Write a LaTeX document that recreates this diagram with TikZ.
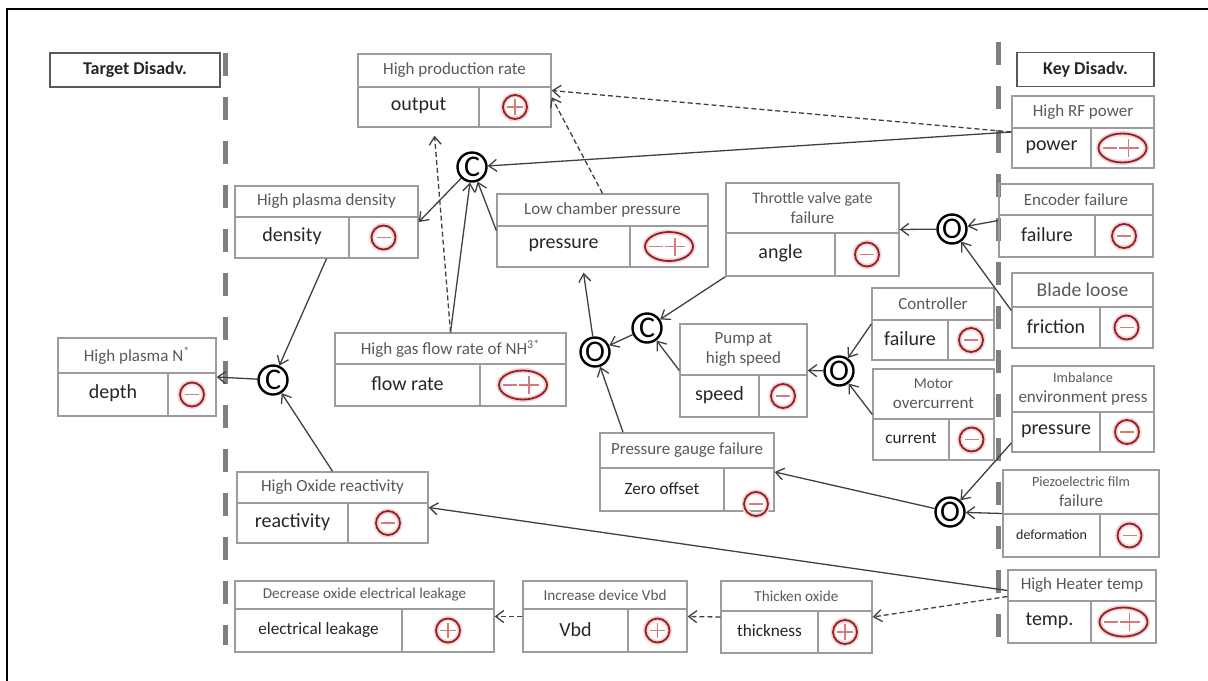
\documentclass[tikz,border=0pt]{standalone}
\usepackage{fontspec}
\setmainfont{Carlito}
\usetikzlibrary{arrows.meta,fit,shapes.geometric}

\definecolor{signred}{HTML}{9B1D20}
\definecolor{signlight}{HTML}{D77A7C}
\definecolor{framegray}{HTML}{9C9C9C}
\definecolor{titlegray}{HTML}{595959}
\definecolor{sepgray}{HTML}{7F7F7F}

\newcommand{\tsmall}{\fontsize{7.6}{9}\selectfont}
\newcommand{\ttiny}{\fontsize{7.1}{8.7}\selectfont}
\newcommand{\vsmall}{\fontsize{8.6}{10}\selectfont}
\newcommand{\vtiny}{\fontsize{7}{8}\selectfont}

\tikzset{
  boxframe/.style={draw=framegray, line width=0.7pt, inner sep=0pt},
  titletext/.style={text=titlegray, align=center, inner sep=0pt,
    font=\fontsize{8.5}{10}\selectfont},
  vartext/.style={text=black!85, inner sep=0pt, font=\fontsize{10}{12}\selectfont},
  headbox/.style={draw=black!65, line width=0.9pt, minimum height=17pt,
    inner sep=0pt, text=black!85, font=\bfseries\fontsize{9}{11}\selectfont},
  sepline/.style={draw=sepgray, line width=2.5pt, dash pattern=on 11.5pt off 10.5pt},
  junction/.style={circle, draw=black, line width=1.2pt, minimum size=14.5pt,
    inner sep=0pt, font=\fontsize{15}{15}\selectfont},
  signminus/.style={circle, draw=signred, line width=0.9pt, minimum size=12pt,
    inner sep=0pt, preaction={draw=signred!18, line width=2.6pt},
    path picture={\draw[signlight, line width=0.9pt]
      ([xshift=-3.5pt]path picture bounding box.center) --
      ([xshift=3.5pt]path picture bounding box.center);}},
  signplus/.style={circle, draw=signred, line width=0.9pt, minimum size=12pt,
    inner sep=0pt, preaction={draw=signred!18, line width=2.6pt},
    path picture={\draw[signlight, line width=0.9pt]
      ([xshift=-3.8pt]path picture bounding box.center) --
      ([xshift=3.8pt]path picture bounding box.center)
      ([yshift=-3.8pt]path picture bounding box.center) --
      ([yshift=3.8pt]path picture bounding box.center);}},
  signboth/.style={ellipse, draw=signred, line width=0.9pt, minimum width=24pt,
    minimum height=14.5pt, inner sep=0pt, preaction={draw=signred!18, line width=2.6pt},
    path picture={\draw[signlight, line width=0.9pt]
      ([xshift=-10pt]path picture bounding box.center) --
      ([xshift=-3pt]path picture bounding box.center)
      ([xshift=-2pt]path picture bounding box.center) --
      ([xshift=8pt]path picture bounding box.center)
      ([xshift=3pt,yshift=-4.5pt]path picture bounding box.center) --
      ([xshift=3pt,yshift=4.5pt]path picture bounding box.center);}},
  cause/.style={-{Straight Barb[length=4pt,width=6pt]}, draw=black!75, line width=0.65pt},
  hint/.style={cause, dash pattern=on 2.5pt off 1.5pt}
}

% box: name, x1, y1, x2, y2, title split, cell split, title, variable
\newcommand{\factorbox}[9]{%
  \node[boxframe, fit={(#2,#3) (#4,#5)}] (#1) {};
  \draw[boxframe] (#2,#6) -- (#4,#6) (#7,#6) -- (#7,#5);
  \node[titletext] (#1-t) at ({(#2+#4)/2},{(#3+#6)/2}) {#8};
  \node[vartext] (#1-v) at ({(#2+#7)/2},{(#6+#5)/2-1}) {#9};
  \coordinate (#1-s) at ({(#7+#4)/2},{(#6+#5)/2});
}

\begin{document}
\begin{tikzpicture}[x=0.5pt,y=-0.5pt]
  \clip (0,0) rectangle (1208,680);
  \draw[line width=1pt] (7,9) rectangle (1230,700);
  % separators
  \draw[sepline] (225,53) -- (225,645);
  \draw[sepline] (998,42) -- (998,655);
  % headers
  \node[headbox, minimum width=85pt] (target) at (135,70) {Target Disadv.};
  \node[headbox, minimum width=68.5pt] (key) at (1085.5,69.5) {Key Disadv.};
  % factor boxes
  \factorbox{prod}{358}{54}{551}{127}{87}{479}{High production rate}{output}
  \factorbox{dens}{235}{186}{418}{258}{217}{349}{High plasma density}{density}
  \factorbox{lowp}{497}{194}{708}{267}{226}{630}{Low chamber pressure}{pressure}
  \factorbox{tvg}{726}{183}{899}{276}{233}{835}{\fontsize{8}{10}\selectfont Throttle valve gate\\failure}{angle}
  \factorbox{rf}{1012}{96}{1154}{168}{128}{1091}{High RF power}{power}
  \factorbox{enc}{999}{184}{1153}{257}{215}{1095}{Encoder failure}{failure}
  \factorbox{blade}{1012}{273}{1153}{348}{307}{1100}{\fontsize{9.8}{11}\selectfont Blade loose}{friction}
  \factorbox{ctrl}{872}{288}{994}{360}{320}{948}{Controller}{failure}
  \factorbox{motor}{873}{369}{994}{460}{419}{949}{\tsmall Motor\\overcurrent}{\vsmall current}
  \factorbox{pump}{680}{324}{807}{417}{375}{759}{Pump at\\high speed}{speed}
  \factorbox{flow}{335}{333}{566}{406}{364}{480}{High gas flow rate of NH\textsuperscript{3*}}{flow rate}
  \factorbox{plasn}{58}{338}{216}{416}{373}{168}{High plasma N\textsuperscript{*}}{depth}
  \factorbox{react}{237}{472}{428}{543}{503}{348}{High Oxide reactivity}{reactivity}
  \factorbox{gauge}{600}{433}{774}{511}{468}{724}{Pressure gauge failure}{\vsmall Zero offset}
  \factorbox{imb}{1012}{366}{1154}{452}{412}{1100}{\ttiny Imbalance\\environment press}{pressure}
  \factorbox{piezo}{1003}{470}{1159}{557}{514}{1100}{\ttiny Piezoelectric film\\failure}{\vtiny deformation}
  \factorbox{heat}{1008}{570}{1156}{643}{601}{1091}{High Heater temp}{temp.}
  \factorbox{thick}{721}{581}{872}{653}{611}{818}{\tsmall Thicken oxide}{\vsmall thickness}
  \factorbox{vbd}{523}{581}{687}{652}{609}{628}{\tsmall Increase device Vbd}{Vbd}
  \factorbox{leak}{235}{581}{494}{652}{609}{402}{\tsmall Decrease oxide electrical leakage}{\vsmall electrical leakage}
  % signs
  \node[signplus] (prod-m) at (prod-s) {};
  \node[signminus] (dens-m) at (dens-s) {};
  \node[signboth] (lowp-m) at (lowp-s) {};
  \node[signminus] (tvg-m) at (tvg-s) {};
  \node[signboth] (rf-m) at (rf-s) {};
  \node[signminus] (enc-m) at (enc-s) {};
  \node[signminus] (blade-m) at (blade-s) {};
  \node[signminus] (ctrl-m) at (ctrl-s) {};
  \node[signminus] (motor-m) at (motor-s) {};
  \node[signminus] (pump-m) at (pump-s) {};
  \node[signboth] (flow-m) at (flow-s) {};
  \node[signminus] (plasn-m) at (plasn-s) {};
  \node[signminus] (react-m) at (react-s) {};
  \node[signminus] (gauge-m) at (756,504) {};
  \node[signminus] (imb-m) at (imb-s) {};
  \node[signminus] (piezo-m) at (piezo-s) {};
  \node[signboth] (heat-m) at (heat-s) {};
  \node[signplus] (thick-m) at (thick-s) {};
  \node[signplus] (vbd-m) at (vbd-s) {};
  \node[signplus] (leak-m) at (leak-s) {};
  % and / or junctions
  \node[junction] (ctop) at (472,167) {C};
  \node[junction] (cleft) at (273,380) {C};
  \node[junction] (cmid) at (647,328) {C};
  \node[junction] (omid) at (595,352) {O};
  \node[junction] (otr) at (952,229) {O};
  \node[junction] (orm) at (839,371) {O};
  \node[junction] (obr) at (950,512) {O};
  % causal links
  \begin{scope}[cause]
    \draw (rf.west) to (ctop);
    \draw (flow.north) to (ctop);
    \draw (lowp.west) to (ctop);
    \draw (ctop) to (dens.east);
    \draw (dens.south) to (cleft);
    \draw (react.north) to (cleft);
    \draw (cleft) to (plasn.east);
    \draw (omid) to ([xshift=-9.5pt,yshift=-2.5pt]lowp.south);
    \draw (cmid) to (omid);
    \draw (tvg.south west) to (cmid);
    \draw (pump.west) to (cmid);
    \draw ([xshift=-32pt]gauge.north) to (omid);
    \draw (otr) to (tvg.east);
    \draw (enc.west) to (otr);
    \draw (blade.west) to (otr);
    \draw (orm) to (pump.east);
    \draw (ctrl.west) to (orm);
    \draw (motor.west) to (orm);
    \draw ([yshift=-17pt]imb.west) to (obr);
    \draw (piezo.west) to (obr);
    \draw (obr) to (gauge.east);
    \draw ([yshift=8pt]heat.west) to (react.east);
  \end{scope}
  \begin{scope}[hint]
    \draw (rf.west) to (prod.east);
    \draw (lowp.north) to (prod.-4);
    \draw (flow.north) to ([xshift=-10pt,yshift=-4pt]prod.south);
    \draw ([yshift=5pt]heat.west) to (thick.east);
    \draw (thick.west) to (vbd.east);
    \draw (vbd.west) to (leak.east);
  \end{scope}
\end{tikzpicture}
\end{document}
